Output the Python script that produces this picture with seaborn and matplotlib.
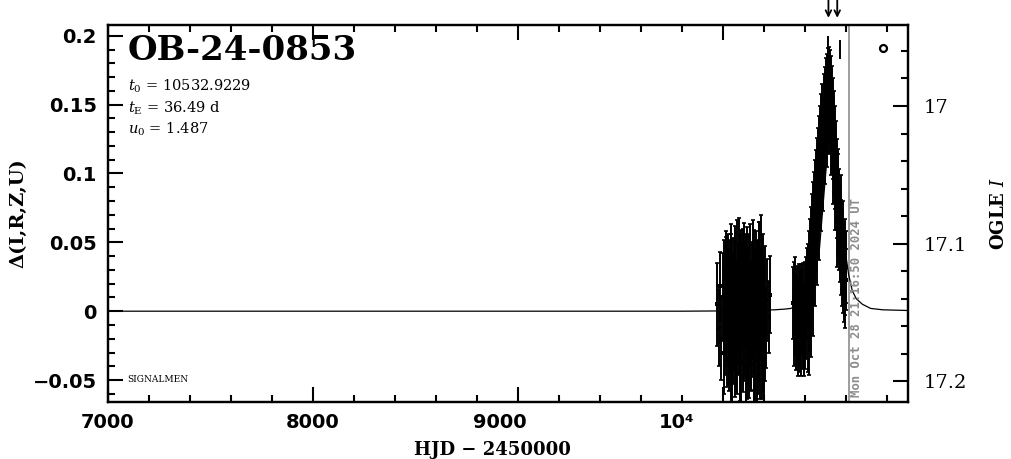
import numpy as np
import pandas as pd
import seaborn as sns
import matplotlib
matplotlib.use("Agg")
import matplotlib.pyplot as plt
from matplotlib.ticker import MultipleLocator, FixedLocator, FixedFormatter
from matplotlib.transforms import ScaledTranslation

# ---------------- data ----------------
season1_hjd = [9972, 9978, 9985, 9991, 9998, 10003, 10006, 10009, 10012, 10015, 10018, 10020,
               10023, 10026, 10028, 10031, 10034, 10036, 10039, 10041, 10044, 10047, 10049,
               10052, 10055, 10057, 10060, 10063, 10066, 10068, 10071, 10074, 10077, 10079,
               10082, 10085, 10088, 10090, 10093, 10096, 10099, 10101, 10104, 10107, 10110,
               10112, 10115, 10118, 10121, 10124, 10126, 10129, 10132, 10135, 10137, 10140,
               10143, 10146, 10148, 10151, 10154, 10157, 10159, 10162, 10165, 10168, 10171,
               10174, 10176, 10179, 10182, 10185, 10188, 10191, 10194, 10197, 10201, 10205,
               10210, 10216, 10222, 10228,
               10007, 10013, 10019, 10024, 10030, 10035, 10040, 10045, 10050, 10054, 10059,
               10064, 10069, 10073, 10078, 10083, 10087, 10092, 10097, 10102, 10106, 10111,
               10116, 10120, 10125, 10130, 10134, 10139, 10144, 10149, 10153, 10158, 10163,
               10167, 10172, 10177, 10181, 10186, 10190, 10195, 10199, 10203]
season1_dmag = [0.005, -0.012, 0.018, -0.020, 0.010, -0.005, 0.022, -0.018, 0.004, 0.030, -0.025,
                0.012, -0.008, 0.026, -0.030, 0.002, 0.018, -0.015, 0.035, -0.038, 0.008, -0.020,
                0.024, -0.006, 0.014, -0.032, 0.030, -0.012, 0.006, -0.026, 0.020, -0.002, 0.038,
                -0.018, 0.010, -0.035, 0.028, -0.008, 0.016, -0.028, 0.004, 0.034, -0.015, 0.022,
                -0.040, 0.008, -0.004, 0.030, -0.022, 0.014, -0.034, 0.026, -0.010, 0.002, -0.030,
                0.020, -0.016, 0.036, -0.006, -0.038, 0.012, -0.024, 0.028, -0.002, 0.018, -0.036,
                0.006, 0.032, -0.020, 0.010, -0.030, 0.040, -0.008, 0.022, -0.026, 0.004, -0.040,
                0.016, -0.012, 0.008, -0.004, 0.012,
                -0.030, 0.026, -0.004, 0.016, -0.022, 0.008, 0.028, -0.034, 0.012, -0.014, 0.020,
                -0.028, 0.034, -0.010, 0.004, 0.024, -0.038, 0.010, 0.030, -0.020, 0.002, 0.026,
                -0.032, 0.014, -0.006, 0.032, -0.024, 0.008, 0.018, -0.012, 0.030, -0.036, 0.004,
                0.022, -0.028, 0.036, -0.004, 0.014, -0.034, 0.028, 0.010, -0.022]
season1_err = [0.030, 0.028, 0.025, 0.030, 0.032, 0.026, 0.030, 0.028, 0.024, 0.028, 0.030, 0.026,
               0.032, 0.030, 0.028, 0.025, 0.034, 0.030, 0.028, 0.030, 0.026, 0.033, 0.029, 0.031,
               0.027, 0.030, 0.032, 0.028, 0.030, 0.034, 0.029, 0.031, 0.030, 0.028, 0.033, 0.030,
               0.031, 0.029, 0.034, 0.031, 0.028, 0.030, 0.032, 0.029, 0.030, 0.033, 0.028, 0.031,
               0.030, 0.032, 0.029, 0.030, 0.031, 0.034, 0.028, 0.030, 0.032, 0.030, 0.029, 0.030,
               0.033, 0.031, 0.030, 0.028, 0.032, 0.031, 0.030, 0.033, 0.030, 0.029, 0.034, 0.030,
               0.031, 0.030, 0.032, 0.028, 0.030, 0.031, 0.029, 0.030, 0.026, 0.028,
               0.030, 0.028, 0.032, 0.029, 0.031, 0.030, 0.028, 0.033, 0.030, 0.029, 0.031,
               0.030, 0.032, 0.028, 0.030, 0.031, 0.029, 0.033, 0.030, 0.031, 0.028, 0.030,
               0.032, 0.029, 0.030, 0.031, 0.033, 0.028, 0.030, 0.032, 0.029, 0.030, 0.031,
               0.030, 0.032, 0.029, 0.030, 0.031, 0.030, 0.028, 0.030, 0.029]

season2_hjd = [10343, 10345, 10348, 10350, 10352, 10355, 10357, 10360, 10362, 10365, 10367, 10370,
               10372, 10375, 10377, 10380, 10382, 10385, 10387, 10390, 10392, 10395, 10397, 10400,
               10402, 10405, 10407, 10410, 10412, 10415, 10417, 10420, 10422, 10425, 10427, 10430,
               10432, 10435, 10437, 10440, 10442, 10445, 10447, 10450, 10452, 10455, 10457, 10460,
               10462, 10465, 10467, 10470, 10472, 10475, 10477, 10480, 10482, 10485, 10487, 10490,
               10492, 10495, 10497, 10500, 10502, 10505, 10507, 10510, 10512, 10515, 10517, 10520,
               10522, 10525, 10527, 10530, 10532, 10535, 10537, 10540, 10542, 10545, 10547, 10550,
               10552, 10555, 10557, 10560, 10562, 10565, 10567, 10570, 10572, 10575, 10577, 10580,
               10582, 10585, 10587, 10590, 10592, 10595, 10597, 10600,
               10418, 10428, 10438, 10448, 10458, 10468, 10478, 10488, 10498, 10508, 10518, 10528,
               10538, 10548, 10558, 10563, 10573, 10583, 10593, 10598]
season2_dmag = [0.006, -0.012, 0.010, -0.004, 0.014, -0.016, 0.000, -0.010, 0.008, -0.020, -0.002,
                0.006, -0.018, 0.002, -0.012, 0.008, -0.022, -0.004, 0.004, -0.014, 0.010, -0.020,
                -0.006, 0.008, -0.016, 0.012, -0.010, 0.018, -0.018, 0.022, -0.004, 0.030, 0.008,
                0.040, 0.014, 0.048, 0.024, 0.058, 0.030, 0.066, 0.040, 0.074, 0.050, 0.082, 0.058,
                0.090, 0.068, 0.098, 0.076, 0.106, 0.086, 0.114, 0.094, 0.122, 0.104, 0.130, 0.112,
                0.138, 0.120, 0.144, 0.128, 0.150, 0.136, 0.156, 0.142, 0.160, 0.148, 0.163, 0.152,
                0.165, 0.155, 0.162, 0.150, 0.158, 0.142, 0.150, 0.132, 0.142, 0.122, 0.132, 0.110,
                0.122, 0.100, 0.110, 0.088, 0.098, 0.078, 0.086, 0.066, 0.076, 0.056, 0.064, 0.046,
                0.054, 0.038, 0.044, 0.030, 0.036, 0.024, 0.030, 0.018, 0.024, 0.014, 0.023,
                -0.020, -0.006, 0.010, 0.030, 0.046, 0.062, 0.084, 0.100, 0.118, 0.130, 0.140,
                0.126, 0.104, 0.086, 0.060, 0.092, 0.072, 0.054, 0.042, 0.032]
season2_err = [0.026, 0.028, 0.026, 0.028, 0.025, 0.027, 0.026, 0.028, 0.025, 0.027, 0.026, 0.028,
               0.026, 0.027, 0.028, 0.026, 0.025, 0.027, 0.026, 0.028, 0.025, 0.027, 0.026, 0.028,
               0.026, 0.027, 0.025, 0.028, 0.026, 0.027, 0.026, 0.028, 0.025, 0.027, 0.026, 0.028,
               0.026, 0.027, 0.025, 0.028, 0.026, 0.027, 0.026, 0.028, 0.025, 0.027, 0.026, 0.028,
               0.026, 0.027, 0.025, 0.028, 0.026, 0.027, 0.026, 0.028, 0.025, 0.027, 0.026, 0.028,
               0.026, 0.027, 0.025, 0.028, 0.026, 0.027, 0.026, 0.028, 0.025, 0.027, 0.026, 0.028,
               0.026, 0.027, 0.025, 0.028, 0.026, 0.027, 0.026, 0.028, 0.025, 0.027, 0.026, 0.028,
               0.026, 0.027, 0.025, 0.028, 0.026, 0.027, 0.026, 0.028, 0.025, 0.027, 0.026, 0.028,
               0.026, 0.027, 0.025, 0.028, 0.026, 0.027, 0.026, 0.022,
               0.026, 0.027, 0.028, 0.026, 0.027, 0.025, 0.026, 0.027, 0.026, 0.025, 0.026, 0.027,
               0.026, 0.027, 0.028, 0.026, 0.027, 0.026, 0.025, 0.026]

outlier_hjd = [10512, 10571]
outlier_dmag = [0.160, 0.190]
outlier_err = [0.040, 0.007]

model_hjd = [7072, 9800, 10100, 10250, 10300, 10330, 10360, 10400, 10440, 10470, 10495, 10515,
             10533, 10550, 10570, 10590, 10612, 10630, 10650, 10680, 10720, 10780, 10902]
model_dmag = [0.0, 0.0, 0.0003, 0.001, 0.0015, 0.002, 0.004, 0.008, 0.020, 0.045, 0.090, 0.125,
              0.139, 0.125, 0.085, 0.050, 0.027, 0.015, 0.009, 0.005, 0.002, 0.001, 0.0005]

arrow_hjd = [10514, 10557]
now_hjd = 10612.39
circle_hjd, circle_dmag = 10779, 0.191
I_base = 17.149

x_ticks = [7000, 8000, 9000, 10000]
x_ticklabels = ["7000", "8000", "9000", "10\u2074"]
x_label_shift_px = [0, 0, -18, -46]

# ---------------- figure ----------------
sns.set_style("ticks")
plt.rcParams["font.family"] = ["DejaVu Serif"]
plt.rcParams["mathtext.fontset"] = "dejavuserif"
for k in ["text.color", "axes.labelcolor", "xtick.color", "ytick.color", "axes.edgecolor"]:
    plt.rcParams[k] = "black"

fig = plt.figure(figsize=(10.11, 4.59), dpi=100)
ax = fig.add_axes([0.1068, 0.1249, 0.7913, 0.8206])

df1 = pd.DataFrame({"hjd": season1_hjd + season2_hjd,
                    "dmag": season1_dmag + season2_dmag,
                    "err": season1_err + season2_err})
ax.errorbar(df1["hjd"], df1["dmag"], yerr=df1["err"], fmt="none", ecolor="black",
            elinewidth=1.4, capsize=1.5, capthick=1.2, zorder=3)
sns.scatterplot(data=df1, x="hjd", y="dmag", ax=ax, color="black", s=6, marker="s",
                linewidth=0, zorder=4)
ax.errorbar(outlier_hjd, outlier_dmag, yerr=outlier_err, fmt="none", ecolor="black",
            elinewidth=1.4, capsize=0, zorder=3)

dfm = pd.DataFrame({"hjd": model_hjd, "dmag": model_dmag})
sns.lineplot(data=dfm, x="hjd", y="dmag", ax=ax, color="black", lw=0.9, zorder=2)

ax.axvline(now_hjd, color="#8c8c8c", lw=1.2, zorder=1)
ax.text(now_hjd + 5, -0.062, "Mon Oct 28 21:16:50 2024 UT", rotation=90, color="#8c8c8c",
        fontsize=8.8, fontweight="bold", family="DejaVu Sans Mono", ha="left", va="bottom")

ax.plot([circle_hjd], [circle_dmag], marker="o", ms=5, mfc="white", mec="black", mew=1.6,
        ls="none", zorder=5)

for t in arrow_hjd:
    ax.annotate("", xy=(t, 1.019), xycoords=("data", "axes fraction"),
                xytext=(t, 1.066), textcoords=("data", "axes fraction"),
                arrowprops=dict(arrowstyle="->", lw=1.3, color="black",
                                shrinkA=0, shrinkB=0, mutation_scale=10),
                annotation_clip=False)

ax.set_xlim(7000, 10902)
ax.set_ylim(-0.0657, 0.2078)

# ticks
ax.xaxis.set_major_locator(FixedLocator(x_ticks))
ax.xaxis.set_major_formatter(FixedFormatter(x_ticklabels))
ax.xaxis.set_minor_locator(MultipleLocator(200))
ax.yaxis.set_major_locator(MultipleLocator(0.05))
ax.yaxis.set_minor_locator(MultipleLocator(0.01))
ax.yaxis.set_major_formatter(plt.FuncFormatter(
    lambda v, p: "0" if abs(v) < 1e-9 else ("\u2212" if v < 0 else "") + ("%g" % abs(v))))
ax.tick_params(axis="both", which="major", direction="in", length=10.5, width=1.5,
               top=True, bottom=True, left=True, right=False, labelsize=14)
ax.tick_params(axis="both", which="minor", direction="in", length=5, width=1.5,
               top=True, bottom=True, left=True, right=False)
ax.tick_params(axis="y", pad=8)
ax.tick_params(axis="x", pad=8)
for lab in ax.get_xticklabels() + ax.get_yticklabels():
    lab.set_family("DejaVu Sans")
    lab.set_fontweight("bold")
for tick, dx in zip(ax.xaxis.get_major_ticks(), x_label_shift_px):
    tick.label1.set_transform(tick.label1.get_transform() +
                              ScaledTranslation(dx / 100.0, 0, fig.dpi_scale_trans))
for s in ax.spines.values():
    s.set_linewidth(1.6)
    s.set_visible(True)

ax.set_xlabel("HJD \u2212 2450000", fontsize=13, fontweight="bold")
ax.xaxis.set_label_coords(0.48, -0.105)
ax.set_ylabel("\u0394(I,R,Z,U)", fontsize=14, fontweight="bold", labelpad=4)

# right axis: OGLE I
ax2 = ax.twinx()
ax2.set_ylim(I_base + 0.0657, I_base - 0.2078)
ax2.yaxis.set_major_locator(MultipleLocator(0.1))
ax2.yaxis.set_minor_locator(MultipleLocator(0.02))
ax2.yaxis.set_major_formatter(plt.FuncFormatter(lambda v, p: "%g" % round(v, 2)))
ax2.tick_params(axis="y", which="major", direction="in", length=10.5, width=1.5,
                labelsize=14, pad=11)
ax2.tick_params(axis="y", which="minor", direction="in", length=5, width=1.5)
for s in ax2.spines.values():
    s.set_linewidth(1.6)
ax2.set_ylabel("OGLE $\\mathit{I}$", fontsize=13, fontweight="bold", labelpad=17)

# annotations
ax.text(0.0245, 0.975, "OB-24-0853", transform=ax.transAxes, fontsize=24.5,
        fontweight="bold", va="top", ha="left")
ax.text(0.0245, 0.838, "$t_0$ = 10532.9229", transform=ax.transAxes, fontsize=10.5,
        va="center", ha="left")
ax.text(0.0245, 0.780, "$t_\\mathrm{E}$ = 36.49 d", transform=ax.transAxes, fontsize=10.5,
        va="center", ha="left")
ax.text(0.0245, 0.722, "$u_0$ = 1.487", transform=ax.transAxes, fontsize=10.5,
        va="center", ha="left")
ax.text(0.0245, 0.058, "SIGNALMEN", transform=ax.transAxes, fontsize=6.5,
        va="center", ha="left")

fig.savefig("out.png", dpi=100)
